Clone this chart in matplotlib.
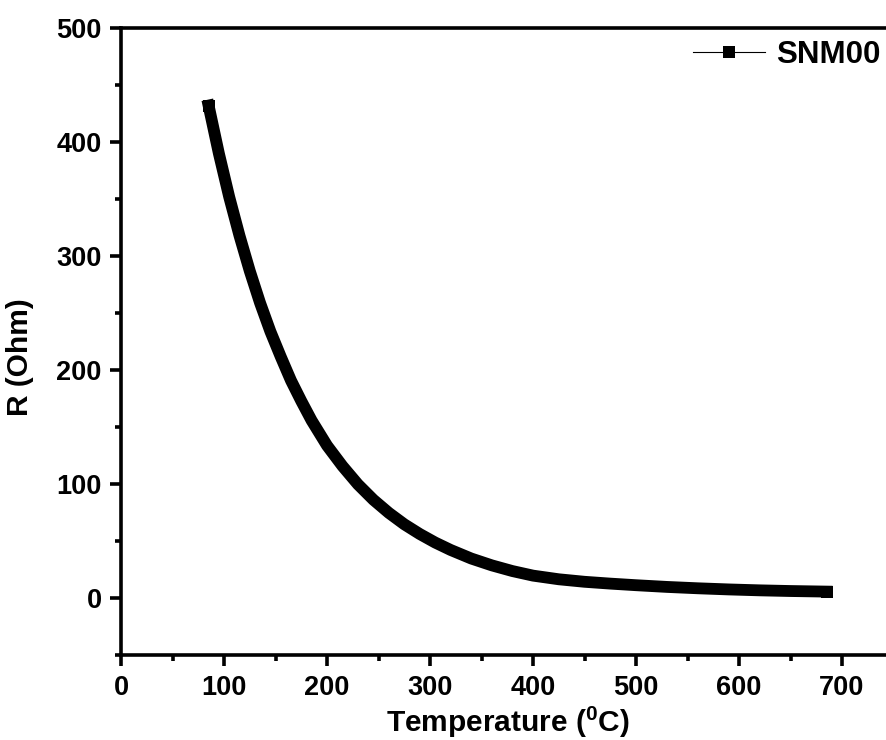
import matplotlib
matplotlib.use("Agg")
import matplotlib.pyplot as plt
from matplotlib.lines import Line2D
from matplotlib.ticker import MultipleLocator

# values
temperature = [85, 95, 105, 115, 125, 135, 145, 155, 165, 175, 185, 200, 215, 230,
               245, 260, 275, 290, 305, 320, 340, 360, 380, 400, 425, 450, 475, 500,
               530, 560, 590, 620, 650, 685]
resistance = [432, 390, 352, 318, 287, 259, 234, 212, 191, 173, 156, 134, 116, 100,
              86.5, 75, 65, 56.5, 49, 42.5, 35, 29, 24, 20, 16.8, 14.6, 13, 11.6,
              10.1, 8.9, 7.9, 7.1, 6.5, 6.0]
series_name = "SNM00"
x_ticks = [0, 100, 200, 300, 400, 500, 600, 700]
y_ticks = [0, 100, 200, 300, 400, 500]

plt.rcParams["font.family"] = ["Liberation Sans", "DejaVu Sans"]
plt.rcParams["font.weight"] = "bold"
plt.rcParams["mathtext.fontset"] = "custom"
plt.rcParams["mathtext.rm"] = "Liberation Sans:bold"
plt.rcParams["mathtext.bf"] = "Liberation Sans:bold"
plt.rcParams["mathtext.default"] = "rm"

fig = plt.figure(figsize=(8.86, 7.40), dpi=100)
ax = fig.add_axes([0.1366, 0.1142, 0.8719, 0.848])

ax.plot(temperature, resistance, color="black", lw=8.5, marker="s", ms=8.5,
        mew=0, markevery=[0, len(temperature) - 1], solid_joinstyle="round")

ax.set_xlim(0, 750)
ax.set_ylim(-50, 500)
ax.set_xticks(x_ticks)
ax.set_yticks(y_ticks)
ax.xaxis.set_minor_locator(MultipleLocator(50))
ax.yaxis.set_minor_locator(MultipleLocator(50))

for side in ["left", "right", "top", "bottom"]:
    ax.spines[side].set_linewidth(2.6)
ax.tick_params(which="both", direction="out", top=False, right=False, width=2.6)
ax.tick_params(which="major", length=8, labelsize=19.5, pad=6)
ax.tick_params(which="minor", length=4)
for lab in ax.get_xticklabels() + ax.get_yticklabels():
    lab.set_fontweight("bold")

ax.set_xlabel(r"Temperature ($^0$C)", fontsize=21.5, fontweight="bold")
ax.set_ylabel("R (Ohm)", fontsize=21.5, fontweight="bold")
ax.xaxis.set_label_coords(0.501, -0.078)
ax.yaxis.set_label_coords(-0.113, 0.475)

handle = Line2D([], [], color="black", lw=0.8, marker="s", ms=9, mew=0)
ax.legend([handle], [series_name], loc="upper right", frameon=False,
          handlelength=2.3, handletextpad=0.36,
          bbox_to_anchor=(1.02, 1.025), prop={"weight": "bold", "size": 22.5})

fig.savefig("out.png", dpi=100)
